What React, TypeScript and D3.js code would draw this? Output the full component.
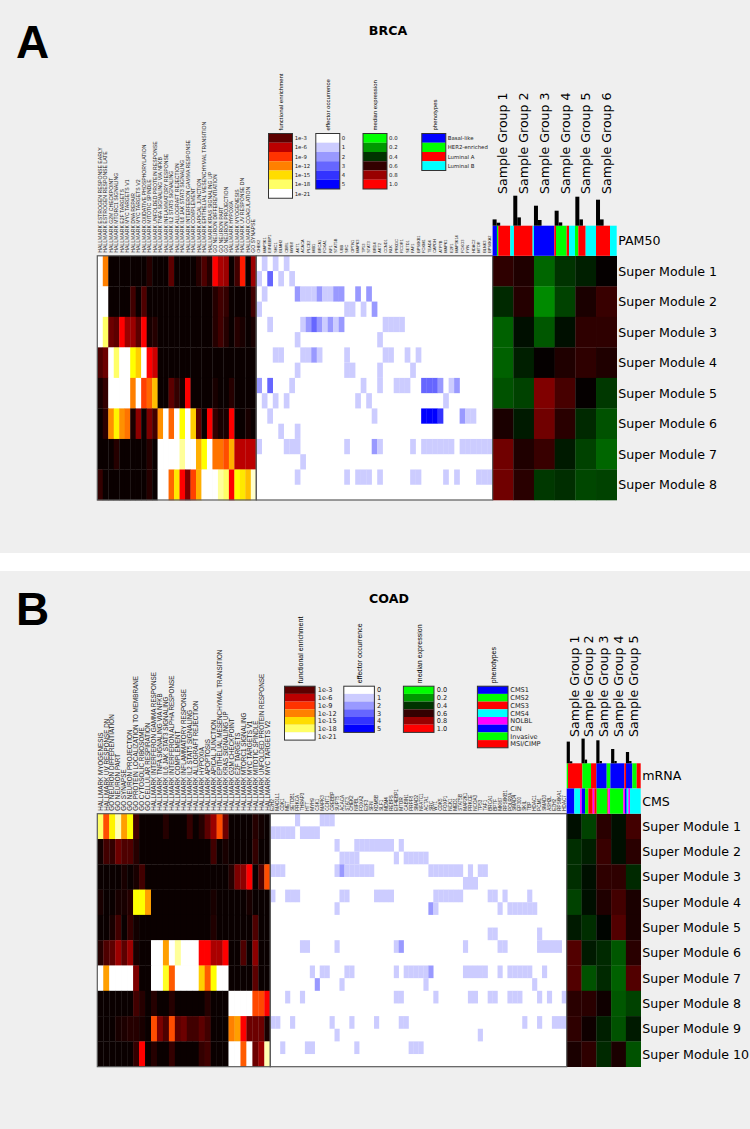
import React from 'react';
import * as d3 from 'd3';

// ---------- categories ----------
const brcaHallmarks = ['HALLMARK ESTROGEN RESPONSE EARLY','HALLMARK ESTROGEN RESPONSE LATE','HALLMARK G2M CHECKPOINT','HALLMARK MTORC1 SIGNALING','HALLMARK E2F TARGETS','HALLMARK MYC TARGETS V1','HALLMARK DNA REPAIR','HALLMARK MYC TARGETS V2','HALLMARK OXIDATIVE PHOSPHORYLATION','HALLMARK MITOTIC SPINDLE','HALLMARK UNFOLDED PROTEIN RESPONSE','HALLMARK TNFA SIGNALING VIA NFKB','HALLMARK INFLAMMATORY RESPONSE','HALLMARK IL2 STAT5 SIGNALING','HALLMARK ALLOGRAFT REJECTION','HALLMARK IL6 JAK STAT3 SIGNALING','HALLMARK INTERFERON GAMMA RESPONSE','HALLMARK COMPLEMENT','HALLMARK APICAL JUNCTION','HALLMARK EPITHELIAL MESENCHYMAL TRANSITION','HALLMARK KRAS SIGNALING UP','GO NEURON DIFFERENTIATION','GO NEURON PART','GO NEURON PROJECTION','HALLMARK HYPOXIA','HALLMARK MYOGENESIS','HALLMARK UV RESPONSE DN','HALLMARK COAGULATION','GO SYNAPSE'];
const coadHallmarks = ['HALLMARK MYOGENESIS','HALLMARK UV RESPONSE DN','GO NEURON DIFFERENTIATION','GO NEURON PART','GO SYNAPSE','GO NEURON PROJECTION','GO PROTEIN LOCALIZATION TO MEMBRANE','GO CYTOSOLIC RIBOSOME','GO CELLULAR RESPIRATION','HALLMARK INTERFERON GAMMA RESPONSE','HALLMARK TNFA SIGNALING VIA NFKB','HALLMARK IL6 JAK STAT3 SIGNALING','HALLMARK INTERFERON ALPHA RESPONSE','HALLMARK COMPLEMENT','HALLMARK INFLAMMATORY RESPONSE','HALLMARK IL2 STAT5 SIGNALING','HALLMARK ALLOGRAFT REJECTION','HALLMARK HYPOXIA','HALLMARK APOPTOSIS','HALLMARK APICAL JUNCTION','HALLMARK EPITHELIAL MESENCHYMAL TRANSITION','HALLMARK KRAS SIGNALING UP','HALLMARK G2M CHECKPOINT','HALLMARK E2F TARGETS','HALLMARK MTORC1 SIGNALING','HALLMARK MYC TARGETS V1','HALLMARK MITOTIC SPINDLE','HALLMARK UNFOLDED PROTEIN RESPONSE','HALLMARK MYC TARGETS V2'];
const brcaEffectors = ['CHEK2','MAP3K1','EIF4EBP1','SHC1','BLMH2','CBRL','MYB8','AKT1','ACACA','PLCE2','MIB1','BRCA1','FOXA1','NF1','STAT5B','UBB','SRC','OPTN1','MAPK3','TP53','STAT3','BRD4','AKT2','CCND1','NLK','PRKDC','RCOR1','SETD1','FAF1','BPS6KB1','FOXM1','TEAD4','CAPDH','ATP7B','MAPK1','E2F1','MAP3K14','FOXO3','FYN','HDAC2','MTOR','BLNK3','BPS6KA2'];
const coadEffectors = ['E2H2','MAD1L1','CDK1','MET','SETDB1','PRKCA','THRAP3','HTT','MYH9','CSK1','MAPK3','CCNT1','CREBBP','SUPT5','ACACA','STAT3','CHEK2','NIPBL','FOXA2','E2F3','SFN','KDM5B','SLF1','MDM4','REBPS','EIF4EBP1','MTOR','CABIN1','PRPF8','SMAD2','NFATC1','ACTA1','SRC','WT1','CDK5','FOXP1','NCK1','MED1','STAT5B','MAP2K1','PRKCE','NCOA3','TP53','TAF1','BRCA1','BPTF','MKI67','RPS6KB1','POLR2A','SMAD4','EP300','SKIL','TBP','HDAC1','PCM1','SMAD3','ASH2L','EZH2','RPS6KA1','HDAC7'];
const brcaGroups = ['Sample Group 1','Sample Group 2','Sample Group 3','Sample Group 4','Sample Group 5','Sample Group 6'];
const coadGroups = ['Sample Group 1','Sample Group 2','Sample Group 3','Sample Group 4','Sample Group 5'];
const brcaModules = ['Super Module 1','Super Module 2','Super Module 3','Super Module 4','Super Module 5','Super Module 6','Super Module 7','Super Module 8'];
const coadModules = ['Super Module 1','Super Module 2','Super Module 3','Super Module 4','Super Module 5','Super Module 6','Super Module 7','Super Module 8','Super Module 9','Super Module 10'];

// ---------- functional enrichment (-log10 p) ----------
const brcaFunctional = [
  [21,12,0,0,0,0,0,0,0,1,0,0,0,3,0,0,0,0,1,2.5,1,8,5.5,5,0,2,8.5,0,5],
  [21,21,0,0,0,0,2,0,2.5,0,0,0,0,0,0,0,0,0,0,0,0,1,2,1.5,0,0,0,0,2],
  [21,18,3.5,3,8,5,5,3,8,0.5,1,0,0,0,0,0,0,0,0,0,0,1,2,1,0,1,0.5,0,0.5],
  [2.5,3.5,21,18,21,21,16.5,14.5,21,8,6.5,0,0,0,0,0,0,0,0,0,0,0,0,0,0,0,0,0,0],
  [0.5,1.5,21,21,21,21,12,21,9.5,11,14,0,0,3,1.5,0.5,8,0,0,0,0,0.5,0,0,1,0,0,0,0],
  [0,1.2,12.5,16,12.5,11.5,0.5,4.5,0,4,2,12.5,21,11,21,16.5,21,14.5,3,0,8,1.5,0.5,0.5,8,0,0,0.5,0],
  [0,0,0,1,0,0,0,0,0,1,0,21,21,21,21,19,21,21,13.5,16.5,21,11.5,11.5,10,13.5,6,6,6,6],
  [1.5,0,0,0,0,0,0,0,0,1,0,21,21,11,15.5,8,4,9.5,13.5,21,21,21,19,18,8,16.5,15.5,14,20],
];
const coadFunctional = [
  [18,10,16,19.5,13,16.5,2,0,0,0,0,1,0,0,0,1.5,0,1,3,5,10,3.5,0,0,0,0,1,0.3,0],
  [0.3,2,1.5,3.5,2.5,2.5,1,0,0,0,0,0,0,0,0,0,0,0,0,2,0,0.5,0,0,0,0,1.5,0,0],
  [0,0,0,0,0.5,0,0.5,2,0,0,0,0,0,0,0,0,0,0,0,0,0,0,1,4,4.5,8,0,2.5,10],
  [0.5,0,0,0.5,0.5,1,16.5,16.5,13,0,0,0,0,0,0,0,0,0,0,0.5,0,0,0,0,0,0.5,0,0,0],
  [0,0,0.5,2,0,1.5,0.3,0,0,0,0,0,0,0,0,0,0,0,0,0.8,0,0,0,0,0,0,2.5,0,0],
  [1,2.5,3,5,3,5,0.5,0,0,21,21,13,21,19,21,21,21,8,8,5.5,5.5,8,0,0,2.5,0,4.5,0,0],
  [21,13,21,21,21,21,4,0,0,21,21,17,10.5,21,21,21,21,14.5,10.5,16.5,21,21,0,0,0,0,3,0,0],
  [0,0,0,0,0,0,2,1,0,1,0,0,1,0,0,0,0,0,1,0,0,0,21,21,21,21,9.8,9.8,8],
  [0,0,0,0.5,0.7,1,1,0.5,0,10,4,2.5,10,3,3.5,2,2,3,2,0,0,0,12,13,8,3.5,3.5,3.5,0.5],
  [0,0,0,0,0,0,1.5,8,0,1,0,0,1.5,0,0,0,0,1.5,2,0,0,0,21,21,10.5,21,3.5,5,19.5],
];

// ---------- effector occurrence: per row, [column, count] ----------
const brcaEffector = [
  [[1,1],[3,1],[5,1]],
  [[0,1],[2,3],[4,1],[6,1]],
  [[1,1],[7,2],[8,1],[9,1],[10,1],[11,2],[12,1],[13,1],[14,2],[15,2],[18,2],[20,2]],
  [[0,1],[16,1],[17,1],[19,1],[21,2]],
  [[2,1],[8,1],[9,2],[10,3],[11,2],[12,1],[13,2],[14,1],[15,2],[23,1],[24,1],[25,1],[26,1]],
  [[7,1],[22,1]],
  [[3,1],[4,1],[8,1],[9,1],[10,2],[11,1],[16,1],[23,1],[24,1],[27,1],[29,1]],
  [[7,1],[16,1],[17,1],[22,1],[28,1]],
  [[0,2],[2,3],[6,1],[19,1],[22,1],[25,1],[26,1],[27,1],[30,3],[31,3],[32,3],[33,2],[35,1],[36,2]],
  [[1,1],[3,1],[5,1],[18,1],[20,1],[34,1]],
  [[2,1],[21,1],[30,5],[31,5],[32,5],[33,4],[37,2],[38,1],[39,1]],
  [[4,1],[7,1]],
  [[0,1],[5,1],[6,1],[7,1],[16,1],[21,2],[22,1],[28,1],[30,1],[31,1],[32,1],[33,1],[34,1],[35,1],[37,1],[38,1],[39,1],[40,1],[41,1],[42,1]],
  [[8,1]],
  [[7,1],[16,1],[18,1],[19,1],[20,1],[22,1],[28,1],[29,1],[34,1],[36,1],[40,1],[41,1],[42,1]],
  [],
];
const coadEffector = [
  [[5,1],[10,1],[11,1],[12,1]],
  [[0,1],[1,1],[2,1],[3,1],[4,1],[6,1],[7,1],[8,1],[9,1]],
  [[13,1],[17,1],[18,1],[19,1],[20,1],[21,1],[22,1],[23,1],[24,1],[26,1]],
  [[14,1],[15,1],[16,1],[17,1],[25,1],[27,1],[28,1],[29,1],[30,1],[31,1]],
  [[0,1],[1,1],[2,1],[13,1],[14,2],[15,1],[16,1],[17,1],[18,1],[19,1],[20,1],[32,1],[33,1],[34,1],[35,1],[36,1],[37,1],[38,1],[40,1],[42,1],[43,1]],
  [[39,1],[40,1],[41,1]],
  [[0,1],[3,1],[4,1],[5,1],[14,1],[15,1],[21,1],[22,1],[23,1],[24,1],[33,1],[34,1],[35,1],[36,1],[37,1],[38,1],[44,1],[45,1],[47,1],[52,1]],
  [[13,1],[32,2],[33,1],[46,1],[48,1],[49,1],[50,1],[51,1],[52,1],[53,1]],
  [],
  [[44,1],[45,1],[54,1]],
  [[6,1],[7,1],[13,1],[25,1],[26,2],[39,1],[46,1],[47,1],[54,1],[55,1],[56,1],[57,1],[58,1]],
  [],
  [[8,1],[10,1],[11,1],[15,1],[16,1],[25,1],[27,1],[28,1],[29,1],[30,1],[31,1],[32,2],[39,1],[40,1],[41,1],[42,1],[43,1],[46,1],[48,1],[49,1],[50,1],[51,1],[52,1],[55,1]],
  [[9,2],[14,1],[31,1],[53,1]],
  [[3,1],[6,1],[25,1],[26,1],[33,1],[40,1],[41,1],[44,1],[45,1],[48,1],[49,1],[50,1],[54,1],[56,1],[59,1]],
  [],
  [[0,1],[1,1],[4,1],[12,1],[16,1],[21,1],[26,1],[27,1],[51,1],[54,1],[57,1],[58,1],[59,1]],
  [[13,1],[42,1]],
  [[2,1],[7,1],[8,1],[17,1],[28,1],[29,1],[30,1]],
  [],
];

// ---------- median expression ----------
const brcaExpression = [
  [0.59,0.56,0.3,0.4,0.44,0.51],
  [0.42,0.57,0.23,0.37,0.55,0.61],
  [0.31,0.47,0.33,0.47,0.59,0.59],
  [0.31,0.44,0.51,0.56,0.59,0.56],
  [0.34,0.37,0.75,0.64,0.51,0.39],
  [0.55,0.45,0.72,0.58,0.42,0.34],
  [0.72,0.56,0.61,0.45,0.37,0.3],
  [0.72,0.58,0.39,0.41,0.36,0.37],
];
const coadExpression = [
  [0.47,0.37,0.58,0.47,0.63],
  [0.41,0.44,0.61,0.47,0.58],
  [0.41,0.47,0.59,0.59,0.42],
  [0.37,0.47,0.56,0.63,0.55],
  [0.45,0.41,0.49,0.66,0.55],
  [0.66,0.45,0.42,0.33,0.58],
  [0.66,0.34,0.42,0.31,0.66],
  [0.58,0.58,0.53,0.33,0.37],
  [0.59,0.53,0.44,0.34,0.45],
  [0.55,0.59,0.42,0.55,0.34],
];

// ---------- sample annotation strips: [phenotype, samples] ----------
const brcaPam50 = [['Basal-like',13],['HER2-enriched',4],['Luminal A',36],['Luminal B',11],['Luminal A',56],['Luminal B',4],['Basal-like',61],['Luminal A',5],['HER2-enriched',32],['Luminal A',7],['Luminal B',18],['HER2-enriched',10],['Luminal A',22],['Luminal B',31],['Luminal A',42],['Luminal B',20]];
const coadMrna = [['Invasive',4],['MSI/CIMP',43],['Invasive',26],['MSI/CIMP',16],['CIN',31],['Invasive',11],['CIN',42],['MSI/CIMP',5],['CIN',19],['Invasive',13],['MSI/CIMP',12]];
const coadCms = [['CMS1',23],['CMS4',17],['NOLBL',5],['CMS1',10],['CMS2',10],['CMS3',13],['NOLBL',5],['CMS3',7],['CMS2',32],['CMS3',3],['NOLBL',5],['CMS2',40],['NOLBL',5],['CMS1',5],['CMS4',5],['NOLBL',5],['CMS4',32]];

// ---------- group-size histograms ----------
const brcaBarsTall = [6.3,30,20,15,29,26];
const brcaBarsShort = [3,8.3,5.7,3.3,6.3,6.3];
const coadBarsTall = [21.7,24.7,23,14.3,11.3];
const coadBarsShort = [2,3.7,2.3,2.3,2.3];

// ---------- legends ----------
const functionalTicks = [3,6,9,12,15,18,21];
const functionalLabels = ['1e-3','1e-6','1e-9','1e-12','1e-15','1e-18','1e-21'];
const effectorTicks = [0,1,2,3,4,5];
const expressionTicks = [0,0.2,0.4,0.6,0.8,1];
const brcaPhenotypes = ['Basal-like','HER2-enriched','Luminal A','Luminal B'];
const brcaPhenotypeColors = ['#0000ff','#00ff00','#ff0000','#00ffff'];
const coadPhenotypes = ['CMS1','CMS2','CMS3','CMS4','NOLBL','CIN','Invasive','MSI/CIMP'];
const coadPhenotypeColors = ['#0000ff','#00ff00','#ff0000','#00ffff','#ff00ff','#0000ff','#00ff00','#ff0000'];

// ---------- colour scales ----------
const hot = d3.scaleLinear<string>()
  .domain([0,3,6,8,9,12,15,16.5,18,21])
  .range(['#0a0000','#5c0000','#bb0000','#ff0000','#ff3300','#ff8000','#ffdd00','#ffff00','#ffff66','#ffffff'])
  .clamp(true);
const blues = d3.scaleLinear<string>().domain([0,5]).range(['#ffffff','#0000ff']);
const greenRed = d3.scaleLinear<string>().domain([0,0.5,1]).range(['#00ff00','#000000','#ff0000']);

const LABEL_FONT = '"Liberation Sans", Arial, sans-serif';
const UI_FONT = '"DejaVu Sans", sans-serif';
const BORDER = '#5a5a5a';

type Legend = { x: number; labelX: number; title: string; titleX: number; colors: string[]; labels: string[] };

function VText({ x, y, size, font, children, fill = '#000' }: any) {
  return (
    <text transform={`translate(${x},${y}) rotate(-90)`} dy="0.36em" fontSize={size} fontFamily={font} fill={fill}>
      {children}
    </text>
  );
}

function Panel(p: any) {
  const rowsY = d3.scaleBand<number>().domain(d3.range(p.modules.length)).range([p.top, p.bottom]);
  const effRowY = d3.scaleBand<number>().domain(d3.range(p.modules.length * 2)).range([p.top, p.bottom]);
  const fX = d3.scaleBand<number>().domain(d3.range(p.hallmarks.length)).range([p.left, p.split]);
  const eX = d3.scaleBand<number>().domain(d3.range(p.effectors.length)).range([p.split, p.right]);
  const gX = d3.scaleBand<number>().domain(d3.range(p.groups.length)).range([p.right, p.end]);
  const barY = d3.scaleLinear().domain([0, 30]).range([p.stripTop, p.stripTop - 30]);
  return (
    <g>
      <rect x={0} y={p.panelTop} width={750} height={p.panelBottom - p.panelTop} fill="#efefef" />
      <text x={p.letterX} y={p.letterY} fontSize={p.letterSize} fontWeight="bold" fontFamily={LABEL_FONT}>{p.letter}</text>
      <text x={p.titleX} y={p.titleY} textAnchor="middle" fontSize={12.6} fontWeight="bold" fontFamily={UI_FONT}>{p.title}</text>

      {p.hallmarks.map((s: string, i: number) => (
        <VText key={s + i} x={fX(i)! + fX.bandwidth() / 2} y={p.top - 3} size={p.hallmarkSize} font={LABEL_FONT} fill="#222">{s}</VText>
      ))}
      {p.effectors.map((s: string, i: number) => (
        <VText key={s + i} x={eX(i)! + eX.bandwidth() / 2} y={p.top - 3} size={p.effectorSize} font={LABEL_FONT} fill="#222">{s}</VText>
      ))}

      {p.functional.map((row: number[], r: number) => row.map((v, c) => (
        <rect key={`f${r}-${c}`} x={fX(c)} y={rowsY(r)} width={fX.bandwidth() + 0.3} height={rowsY.bandwidth() + 0.3} fill={hot(v)} />
      )))}

      <rect x={p.split} y={p.top} width={p.right - p.split} height={p.bottom - p.top} fill="#fff" />
      {p.effector.map((row: number[][], r: number) => row.map(([c, v]) => (
        <rect key={`e${r}-${c}`} x={eX(c)} y={effRowY(r)} width={eX.bandwidth() + 0.2} height={effRowY.bandwidth()} fill={blues(v)} />
      )))}

      {p.expression.map((row: number[], r: number) => row.map((v, c) => (
        <rect key={`x${r}-${c}`} x={gX(c)} y={rowsY(r)} width={gX.bandwidth() + 0.3} height={rowsY.bandwidth() + 0.3} fill={greenRed(v)} />
      )))}

      <rect x={p.left} y={p.top} width={p.split - p.left} height={p.bottom - p.top} fill="none" stroke={BORDER} strokeWidth={1.2} />
      <rect x={p.split} y={p.top} width={p.right - p.split} height={p.bottom - p.top} fill="none" stroke={BORDER} strokeWidth={1.2} />

      {p.strips.map((st: any, si: number) => {
        const totals = d3.cumsum(st.segments.map((d: any) => d[1])) as unknown as number[];
        const sx = d3.scaleLinear().domain([0, totals[totals.length - 1]]).range([p.right, p.end]);
        const sy = p.stripTop + si * p.stripHeight;
        return (
          <g key={st.name}>
            {st.segments.map((d: any, i: number) => (
              <rect key={i} x={sx(i ? totals[i - 1] : 0)} y={sy} width={sx(totals[i]) - sx(i ? totals[i - 1] : 0)} height={p.stripHeight} fill={p.phenotypeColor(d[0])} />
            ))}
            <text x={p.end + 1.5} y={sy + p.stripHeight / 2} dy="0.36em" fontSize={p.sideSize} fontFamily={UI_FONT}>{st.name}</text>
          </g>
        );
      })}

      {p.barsTall.map((v: number, i: number) => (
        <rect key={`bt${i}`} x={gX(i)!} y={barY(v)} width={p.barW1} height={p.stripTop - barY(v)} fill="#000" />
      ))}
      {p.barsShort.map((v: number, i: number) => (
        <rect key={`bs${i}`} x={gX(i)! + p.barW1} y={barY(v)} width={p.barW2} height={p.stripTop - barY(v)} fill="#000" />
      ))}

      {p.groups.map((s: string, i: number) => (
        <VText key={s} x={gX(i)! + gX.bandwidth() / 2} y={p.groupBottom} size={p.sideSize} font={UI_FONT}>{s}</VText>
      ))}
      {p.modules.map((s: string, r: number) => (
        <text key={s} x={p.end + 1.5} y={rowsY(r)! + rowsY.bandwidth() / 2} dy="0.36em" fontSize={p.sideSize} fontFamily={UI_FONT}>{s}</text>
      ))}

      {p.legends.map((l: Legend) => (
        <g key={l.title}>
          <VText x={l.titleX} y={p.legendTop - 3} size={p.legendTitleSize} font={LABEL_FONT}>{l.title}</VText>
          {l.colors.map((c, i) => (
            <g key={i}>
              <rect x={l.x} y={p.legendTop + i * p.swatchH} width={p.swatchW} height={p.swatchH} fill={c} />
              <text x={l.labelX} y={p.legendTop + (i + 0.5) * p.swatchH} dy="0.36em" fontSize={p.legendSize} fontFamily={UI_FONT} fill="#222">{l.labels[i]}</text>
            </g>
          ))}
          <rect x={l.x} y={p.legendTop} width={p.swatchW} height={l.colors.length * p.swatchH} fill="none" stroke="#333" strokeWidth={1} />
        </g>
      ))}
    </g>
  );
}

const fmt1 = d3.format('.1f');

export default function App() {
  const brcaColor = (n: string) => brcaPhenotypeColors[brcaPhenotypes.indexOf(n)];
  const coadColor = (n: string) => coadPhenotypeColors[coadPhenotypes.indexOf(n)];
  const legendA: Legend[] = [
    { x: 268.5, labelX: 294.7, title: 'functional enrichment', titleX: 280.7, colors: functionalTicks.map(hot), labels: functionalLabels },
    { x: 315.8, labelX: 341.7, title: 'effector occurrence', titleX: 328, colors: effectorTicks.map(blues), labels: effectorTicks.map(String) },
    { x: 363, labelX: 389, title: 'median expression', titleX: 375, colors: expressionTicks.map(greenRed), labels: expressionTicks.map(fmt1) },
    { x: 421.8, labelX: 447.7, title: 'phenotypes', titleX: 435, colors: brcaPhenotypeColors, labels: brcaPhenotypes },
  ];
  const legendB: Legend[] = [
    { x: 284.5, labelX: 317.7, title: 'functional enrichment', titleX: 300, colors: functionalTicks.map(hot), labels: functionalLabels },
    { x: 343.8, labelX: 377, title: 'effector occurrence', titleX: 359, colors: effectorTicks.map(blues), labels: effectorTicks.map(String) },
    { x: 403.4, labelX: 436.7, title: 'median expression', titleX: 419, colors: expressionTicks.map(greenRed), labels: expressionTicks.map(fmt1) },
    { x: 477.4, labelX: 510.3, title: 'phenotypes', titleX: 493, colors: coadPhenotypeColors, labels: coadPhenotypes },
  ];
  return (
    <svg width={750} height={1129} viewBox="0 0 750 1129" style={{ position: 'absolute', left: 0, top: 0, display: 'block', background: '#fff' }}>
      <Panel
        panelTop={0} panelBottom={553} letter="A" letterX={16} letterY={58} letterSize={46}
        title="BRCA" titleX={388} titleY={34.5}
        left={97.3} split={256.3} right={492.6} end={616.7} top={255.8} bottom={500}
        hallmarks={brcaHallmarks} effectors={brcaEffectors} groups={brcaGroups} modules={brcaModules}
        functional={brcaFunctional} effector={brcaEffector} expression={brcaExpression}
        strips={[{ name: 'PAM50', segments: brcaPam50 }]} phenotypeColor={brcaColor}
        stripTop={225.7} stripHeight={30.1}
        barsTall={brcaBarsTall} barsShort={brcaBarsShort} barW1={4} barW2={3.6}
        groupBottom={194} sideSize={12.6} hallmarkSize={5.14} effectorSize={3.9}
        legends={legendA} legendTop={133.5} swatchW={24} swatchH={9.25} legendSize={5.4} legendTitleSize={6}
      />
      <Panel
        panelTop={571} panelBottom={1129} letter="B" letterX={16} letterY={625} letterSize={46}
        title="COAD" titleX={389} titleY={602.5}
        left={97.3} split={270.3} right={566.7} end={640.7} top={813.7} bottom={1066.7}
        hallmarks={coadHallmarks} effectors={coadEffectors} groups={coadGroups} modules={coadModules}
        functional={coadFunctional} effector={coadEffector} expression={coadExpression}
        strips={[{ name: 'mRNA', segments: coadMrna }, { name: 'CMS', segments: coadCms }]} phenotypeColor={coadColor}
        stripTop={763.3} stripHeight={25.2}
        barsTall={coadBarsTall} barsShort={coadBarsShort} barW1={3.2} barW2={2.4}
        groupBottom={737} sideSize={12.6} hallmarkSize={6.3} effectorSize={4.6}
        legends={legendB} legendTop={686.2} swatchW={30.6} swatchH={7.7} legendSize={6.6} legendTitleSize={7}
      />
    </svg>
  );
}
